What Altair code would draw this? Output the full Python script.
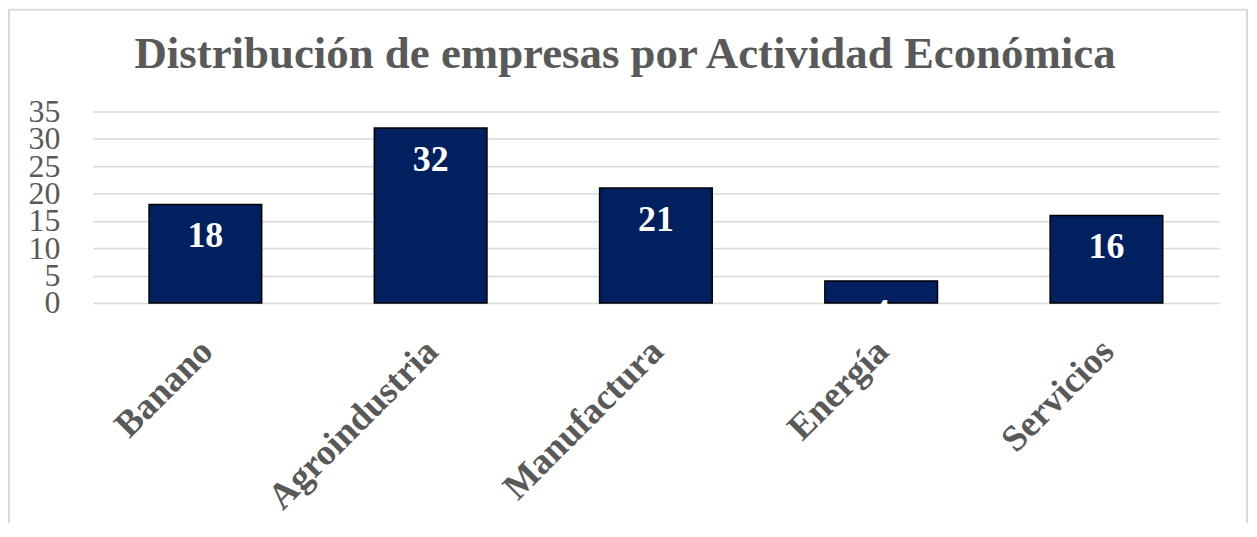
import altair as alt
import pandas as pd

categories = ["Banano", "Agroindustria", "Manufactura", "Energía", "Servicios"]
values = [18, 32, 21, 4, 16]
y_ticks = [0, 5, 10, 15, 20, 25, 30, 35]

df = pd.DataFrame({"actividad": categories, "empresas": values})

FONT = "Liberation Serif"
GRAY = "#595959"

x = alt.X(
    "actividad:N",
    sort=categories,
    scale=alt.Scale(paddingInner=0.5, paddingOuter=0.25),
    axis=alt.Axis(
        title=None,
        labelAngle=-45,
        labelAlign="right",
        labelBaseline="top",
        labelFont=FONT,
        labelFontSize=37,
        labelFontWeight="bold",
        labelColor=GRAY,
        labelPadding=30,
        labelOffset=-11,
        labelLimit=0,
        labelOverlap=False,
        ticks=False,
        domain=False,
        grid=False,
    ),
)
y = alt.Y(
    "empresas:Q",
    scale=alt.Scale(domain=[0, 35], nice=False),
    axis=alt.Axis(
        title=None,
        values=y_ticks,
        labelFont=FONT,
        labelFontSize=32,
        labelColor=GRAY,
        labelPadding=33,
        labelBaseline="middle",
        labelOverlap=False,
        labelBound=False,
        labelFlush=False,
        ticks=False,
        domain=False,
        grid=True,
        gridColor="#d9d9d9",
        gridWidth=1.5,
    ),
)

bars = alt.Chart(df).mark_bar(color="#002060", stroke="black", strokeWidth=1.5).encode(x=x, y=y)

labels = alt.Chart(df).mark_text(
    baseline="top", dy=15, color="white", font=FONT, fontSize=36, fontWeight="bold"
).encode(x=x, y=y, text="empresas:Q")

border = alt.Chart(alt.Data(values=[{"a": 1}])).mark_rect(
    fill="transparent", stroke="#d9d9d9", strokeWidth=2
).encode(
    x=alt.value(-84), x2=alt.value(1158), y=alt.value(-102), y2=alt.value(430)
)

chart = alt.layer(border, bars, labels).properties(
    width=1130,
    height=192,
    autosize=alt.AutoSizeParams(type="none"),
    padding={"left": 85, "top": 103, "right": 30, "bottom": 220},
    title=alt.TitleParams(
        "Distribución de empresas por Actividad Económica",
        font=FONT,
        fontSize=45,
        fontWeight="bold",
        color=GRAY,
        anchor="middle",
        frame="group",
        baseline="alphabetic",
        dx=-31,
        offset=-104,
    ),
).configure_view(stroke=None)

chart.save("out.html", embed_options={"renderer": "svg", "actions": False})
